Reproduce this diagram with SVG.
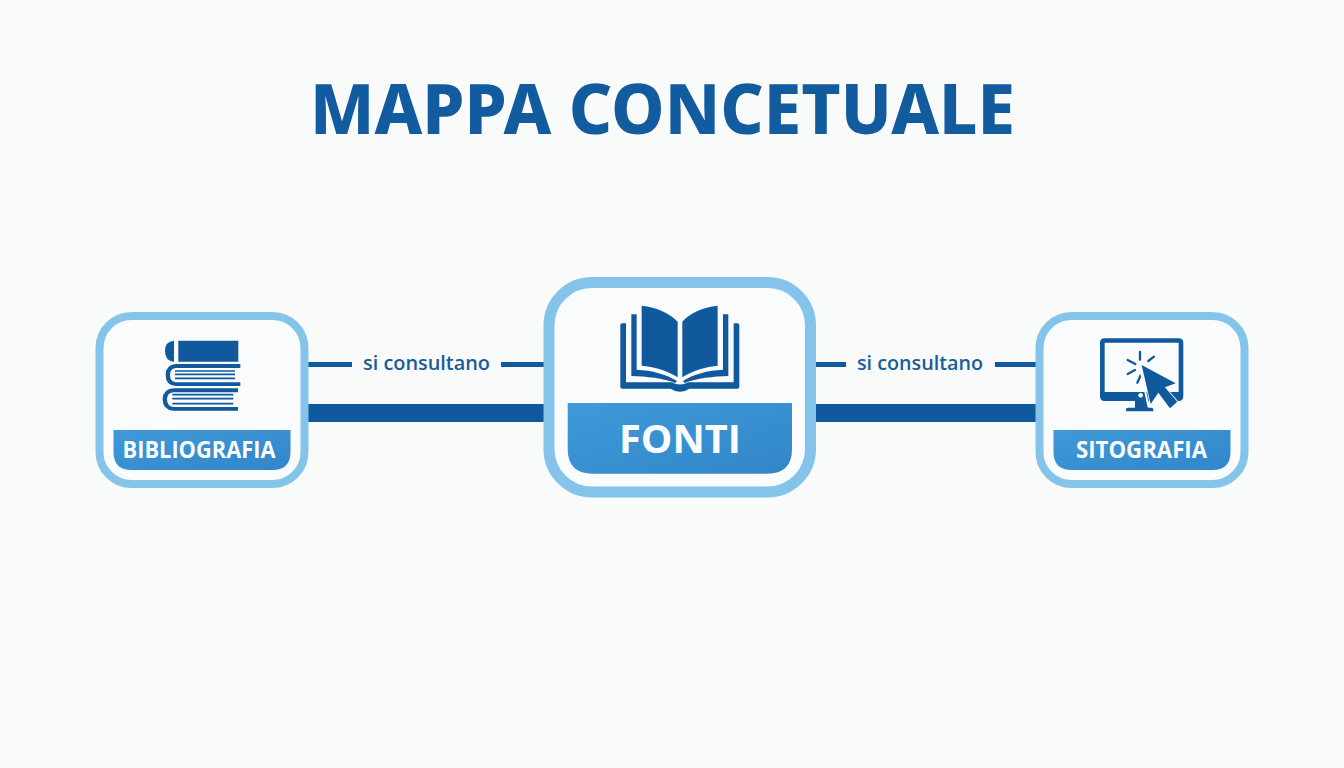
<svg xmlns="http://www.w3.org/2000/svg" width="1344" height="768" viewBox="0 0 1344 768">
<style>
text{font-family:"Open Sans","Noto Sans","Liberation Sans",sans-serif;font-weight:700;text-anchor:middle}
.frame{fill:#fafbfc;stroke:#85c4ea}
.banner{fill:url(#bg)}
.d{fill:#10599c}
.l{stroke:#10599c;fill:none}
.conn{fill:#10599c}
.lab{fill:#fbfcfd}
.edge{fill:#1a5d9a;font-size:19px;font-weight:600}
</style>
<defs>
<linearGradient id="bg" x1="0" y1="0" x2="1" y2="1"><stop offset="0" stop-color="#3f9ad8"/><stop offset="1" stop-color="#3186c9"/></linearGradient>
</defs>
<rect width="1344" height="768" fill="#f9fafa"/>
<text id="title" x="662.5" y="134.300" font-size="69" style="font-weight:800;font-family:'Noto Sans','Open Sans',sans-serif" fill="#125b9e" textLength="705" lengthAdjust="spacingAndGlyphs">MAPPA CONCETUALE</text>
<g id="connectors">
<rect class="conn" x="306" y="362" width="46" height="5"/>
<rect class="conn" x="501" y="362" width="45" height="5"/>
<rect class="conn" x="306" y="404" width="240" height="18"/>
<rect class="conn" x="814" y="362" width="32" height="5"/>
<rect class="conn" x="995" y="362" width="42" height="5"/>
<rect class="conn" x="814" y="404" width="223" height="18"/>
<text class="edge" x="426.500" y="370" textLength="127" lengthAdjust="spacingAndGlyphs">si consultano</text>
<text class="edge" x="920" y="370" textLength="126" lengthAdjust="spacingAndGlyphs">si consultano</text>
</g>
<g id="node-bibliografia">
<rect class="frame" x="99.500" y="316" width="205" height="168" rx="32" stroke-width="8"/>
<path class="banner" d="M113.500 430H290.500V452Q290.500 470 272 470H132Q113.500 470 113.500 452Z"/>
<text class="lab" x="199" y="457.800" font-size="22.500" textLength="153" lengthAdjust="spacingAndGlyphs">BIBLIOGRAFIA</text>
<g transform="translate(80 300) scale(.3333)">
<path class="d" d="M282 122Q255 124 255 153Q255 183 282 185ZM295 122H475V185H295Z"/>
<path class="d" d="M481 192H287Q257 195 257 225Q257 256 287 258H481V247H287Q270 245 270 225Q270 206 287 204H481Z"/>
<path class="l" d="M285 213H465M285 223H465M285 235H465" stroke-width="5"/>
<path class="d" d="M474 265H280Q248 268 248 298Q248 330 280 332H474V321H280Q261 319 261 298Q261 279 280 277H474Z"/>
<path class="l" d="M277 284H460M277 296H460M277 311H460" stroke-width="5"/>
</g>
</g>
<g id="node-fonti">
<rect class="frame" x="549" y="282.500" width="261.500" height="209.500" rx="43" stroke-width="11"/>
<path class="banner" d="M567.700 403H792V449Q792 473.700 767 473.700H593Q567.700 473.700 567.700 449Z"/>
<text class="lab" x="680" y="453" font-size="40" textLength="122" lengthAdjust="spacingAndGlyphs">FONTI</text>
<g transform="translate(530 270) scale(.3333)">
<path class="d" d="M335 107C380 112 420 130 443 155V322C410 300 370 290 335 287Z"/>
<path class="d" d="M563 107C518 112 478 130 457 155V322C490 300 530 290 563 287Z"/>
<path class="d" d="M304 133H320V299C365 301 410 313 441 333L436 339C400 325 350 319 304 318Z"/>
<path class="d" d="M595 133H579V299C534 301 489 313 459 333L464 339C500 325 550 319 595 318Z"/>
<path class="d" d="M271 166Q271 160 277 160H288V337H425Q450 350 475 337H611V160H622Q628 160 628 166V350Q628 356 622 356H478Q450 375 422 356H277Q271 356 271 350Z"/>
</g>
</g>
<g id="node-sitografia">
<rect class="frame" x="1039.500" y="316" width="205" height="168" rx="32" stroke-width="8"/>
<path class="banner" d="M1053.500 430H1230.500V452Q1230.500 470 1212 470H1072Q1053.500 470 1053.500 452Z"/>
<text class="lab" x="1141.500" y="457.800" font-size="22.500" textLength="131" lengthAdjust="spacingAndGlyphs">SITOGRAFIA</text>
<g transform="translate(1020 300) scale(.3333)">
<path class="d" d="M254 115H476Q490 115 490 129V289Q490 303 476 303H385V323H394Q400 323 400 328V334H318V328Q318 323 324 323H345V303H254Q240 303 240 289V129Q240 115 254 115ZM254 128V276H476V128Z" fill-rule="evenodd"/>
<circle cx="362" cy="286" r="7" fill="#fafbfc"/>
<path class="l" d="M360 156V179M323 180L346 192M402 170L385 183M323 222L345 210M362 226L352 248" stroke-width="7" stroke-linecap="round"/>
<path d="M392 312L415 278L450 325H400Z" fill="#fafbfc"/>
<path class="d" d="M365 195L392 312L415 278L450 325L472 305L435 262L467 250Z" stroke="#fafbfc" stroke-width="5" paint-order="stroke"/>
<path d="M360 203L386 322" stroke="#fafbfc" stroke-width="6" fill="none"/>
</g>
</g>
</svg>
